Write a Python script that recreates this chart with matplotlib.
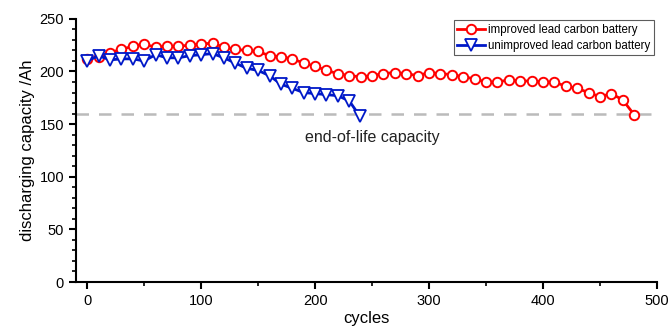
import numpy as np
import matplotlib
matplotlib.use("Agg")
import matplotlib.pyplot as plt
from matplotlib.ticker import MultipleLocator

plt.rcParams['font.family'] = ['Liberation Sans', 'DejaVu Sans']

# improved battery, every 10 cycles
cyc_imp = [0, 10, 20, 30, 40, 50, 60, 70, 80, 90, 100, 110, 120, 130, 140, 150,
           160, 170, 180, 190, 200, 210, 220, 230, 240, 250, 260, 270, 280, 290,
           300, 310, 320, 330, 340, 350, 360, 370, 380, 390, 400, 410, 420, 430,
           440, 450, 460, 470, 480]
cap_imp = [212, 214, 218, 221, 224, 226, 223, 224, 224, 225, 226, 227, 223, 221,
           220, 219, 215, 214, 212, 208, 205, 201, 198, 196, 195, 196, 198, 199,
           198, 196, 199, 198, 197, 195, 193, 190, 190, 192, 191, 191, 190, 190,
           186, 184, 180, 176, 179, 173, 159]

# unimproved battery
cyc_unimp = [0, 10, 20, 30, 40, 50, 60, 70, 80, 90, 100, 110, 120, 130, 140,
             150, 160, 170, 180, 190, 200, 210, 220, 230, 239]
cap_unimp = [210, 215, 211, 212, 212, 210, 216, 213, 213, 215, 216, 217, 213,
             208, 203, 201, 196, 188, 184, 180, 179, 178, 177, 172, 158]

eol = 160

fig = plt.figure(figsize=(6.71, 3.31), dpi=100)
ax = fig.add_axes([0.113, 0.148, 0.866, 0.795])

ax.axhline(eol, color='#bbbbbb', lw=1.8, ls=(0, (5, 4)), zorder=1)
ax.plot(cyc_imp, cap_imp, '-o', color='#ff0000', lw=2, ms=6.8, mfc='white',
        mew=1.4, label='improved lead carbon battery', zorder=3)
ax.plot(cyc_unimp, cap_unimp, '-v', color='#0018c8', lw=2, ms=8, mfc='white',
        mew=1.3, label='unimproved lead carbon battery', zorder=3)

ax.text(191, 133, 'end-of-life capacity', fontsize=11.5, color='#222222')

ax.set_xlim(-10, 500)
ax.set_ylim(0, 250)
ax.xaxis.set_major_locator(MultipleLocator(100))
ax.xaxis.set_minor_locator(MultipleLocator(50))
ax.yaxis.set_major_locator(MultipleLocator(50))
ax.yaxis.set_minor_locator(MultipleLocator(10))
ax.tick_params(which='major', direction='out', length=5, width=1.5, labelsize=10.5,
               colors='black')
ax.tick_params(which='minor', direction='out', length=3, width=1.2)
for s in ['top', 'right']:
    ax.spines[s].set_visible(False)
for s in ['left', 'bottom']:
    ax.spines[s].set_linewidth(1.5)

ax.set_xlabel('cycles', fontsize=12, labelpad=2)
ax.set_ylabel('discharging capacity /Ah', fontsize=12, labelpad=3)

leg = ax.legend(loc='upper right', bbox_to_anchor=(0.995, 0.995), fontsize=8.3,
                frameon=True, fancybox=False, edgecolor='#333333',
                handlelength=2.4, borderpad=0.3, labelspacing=0.35,
                handletextpad=0.3, borderaxespad=0)
leg.get_frame().set_linewidth(0.8)

fig.savefig('out.png', dpi=100)
